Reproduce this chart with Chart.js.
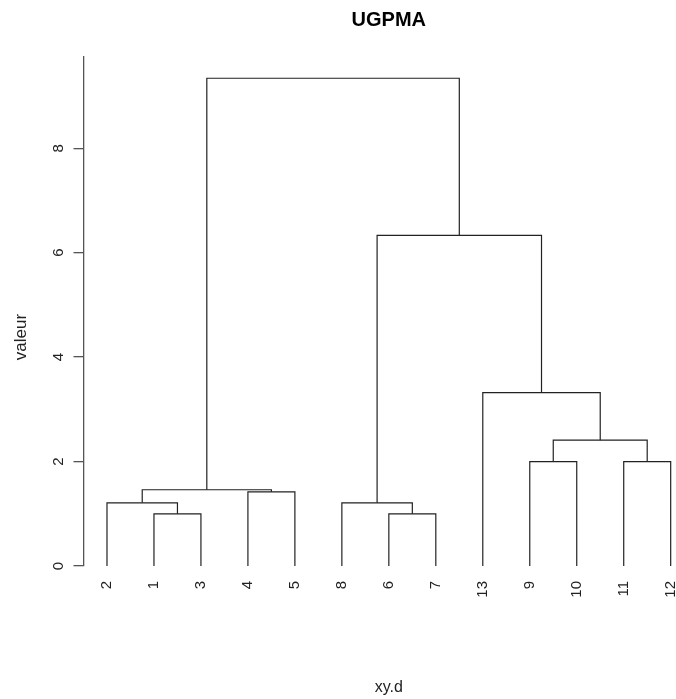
<!DOCTYPE html>
<html>
<head>
<meta charset="utf-8">
<script src="https://cdn.jsdelivr.net/npm/chart.js@4/dist/chart.umd.min.js"></script>
<style>
  html, body { margin: 0; padding: 0; background: #fff; }
  #box { width: 676px; height: 699px; position: relative; }
</style>
</head>
<body>
<div id="box"><canvas id="grafico"></canvas></div>
<script>
// feuilles dans l'ordre du dendrogramme
const leafLabels = ['2', '1', '3', '4', '5', '8', '6', '7', '13', '9', '10', '11', '12'];
// fusions à la manière de hclust : négatif = observation, positif = fusion précédente
const mergeLeft = [-1, -6, -9, -11, -2, -8, -4, 5, 3, -13, 6, 8];
const mergeRight = [-3, -7, -10, -12, 1, 2, -5, 7, 4, 9, 10, 11];
const mergeHeights = [1.0, 1.0, 2.0, 2.0, 1.21, 1.21, 1.42, 1.46, 2.41, 3.32, 6.33, 9.34];
const yTicks = [0, 2, 4, 6, 8];

const titre = 'UGPMA';
const labelX = 'xy.d';
const labelY = 'valeur';

const police = '"Liberation Sans", Arial, Helvetica, sans-serif';

// position de chaque noeud (x) et sa hauteur
const nodePos = [];
function noeud(ref) {
  if (ref < 0) {
    return { x: leafLabels.indexOf(String(-ref)) + 1, y: 0 };
  }
  return nodePos[ref - 1];
}

const datasets = [];
for (let i = 0; i < mergeHeights.length; i++) {
  const a = noeud(mergeLeft[i]);
  const b = noeud(mergeRight[i]);
  const h = mergeHeights[i];
  nodePos.push({ x: (a.x + b.x) / 2, y: h });
  datasets.push({
    data: [
      { x: a.x, y: a.y },
      { x: a.x, y: h },
      { x: b.x, y: h },
      { x: b.x, y: b.y }
    ],
    showLine: true,
    borderColor: '#222',
    borderWidth: 1.2,
    pointRadius: 0,
    fill: false
  });
}

const textesR = {
  id: 'textesR',
  afterDraw(chart) {
    const { ctx, scales } = chart;
    const cx = scales.x.getPixelForValue((1 + leafLabels.length) / 2);
    ctx.save();
    ctx.fillStyle = '#000';
    ctx.textAlign = 'center';
    ctx.textBaseline = 'middle';
    ctx.font = 'bold 20px ' + police;
    ctx.fillText(titre, cx, 20);
    ctx.fillStyle = '#222';
    ctx.font = '16px ' + police;
    ctx.fillText(labelX, cx, 688);
    ctx.translate(21, 337);
    ctx.rotate(-Math.PI / 2);
    ctx.font = '17px ' + police;
    ctx.fillText(labelY, 0, 0);
    ctx.restore();
  }
};

const ctx = document.getElementById('grafico').getContext('2d');
const chart = new Chart(ctx, {
  type: 'scatter',
  data: { datasets: datasets },
  plugins: [textesR],
  options: {
    responsive: true,
    maintainAspectRatio: false,
    animation: false,
    layout: { padding: { top: 57, left: 0, right: 0, bottom: 0 } },
    plugins: {
      legend: { display: false },
      title: { display: false },
      tooltip: { enabled: false }
    },
    scales: {
      x: {
        type: 'linear',
        min: 0.5,
        max: 13.113,
        border: { display: false },
        grid: { display: false, drawTicks: false },
        afterBuildTicks: (scale) => {
          scale.ticks = leafLabels.map((l, i) => ({ value: i + 1 }));
        },
        afterFit: (scale) => {
          scale.height = 133;
          scale.paddingLeft = 0;
          scale.paddingRight = 0;
        },
        ticks: {
          autoSkip: false,
          minRotation: 90,
          maxRotation: 90,
          padding: 15,
          color: '#222',
          font: { family: police, size: 15 },
          callback: (value, index) => leafLabels[index]
        }
      },
      y: {
        type: 'linear',
        min: 0,
        max: 9.747,
        border: { display: true, color: '#555', width: 1.3 },
        grid: {
          drawOnChartArea: false,
          drawTicks: true,
          tickLength: 10,
          color: '#555',
          lineWidth: 1.3
        },
        afterBuildTicks: (scale) => {
          scale.ticks = yTicks.map(v => ({ value: v }));
        },
        afterFit: (scale) => {
          scale.width = 83.5;
          scale.paddingTop = 0;
          scale.paddingBottom = 0;
        },
        ticks: {
          minRotation: 90,
          maxRotation: 90,
          crossAlign: 'center',
          padding: 10.5,
          color: '#222',
          font: { family: police, size: 15 }
        }
      }
    }
  }
});
</script>
</body>
</html>
